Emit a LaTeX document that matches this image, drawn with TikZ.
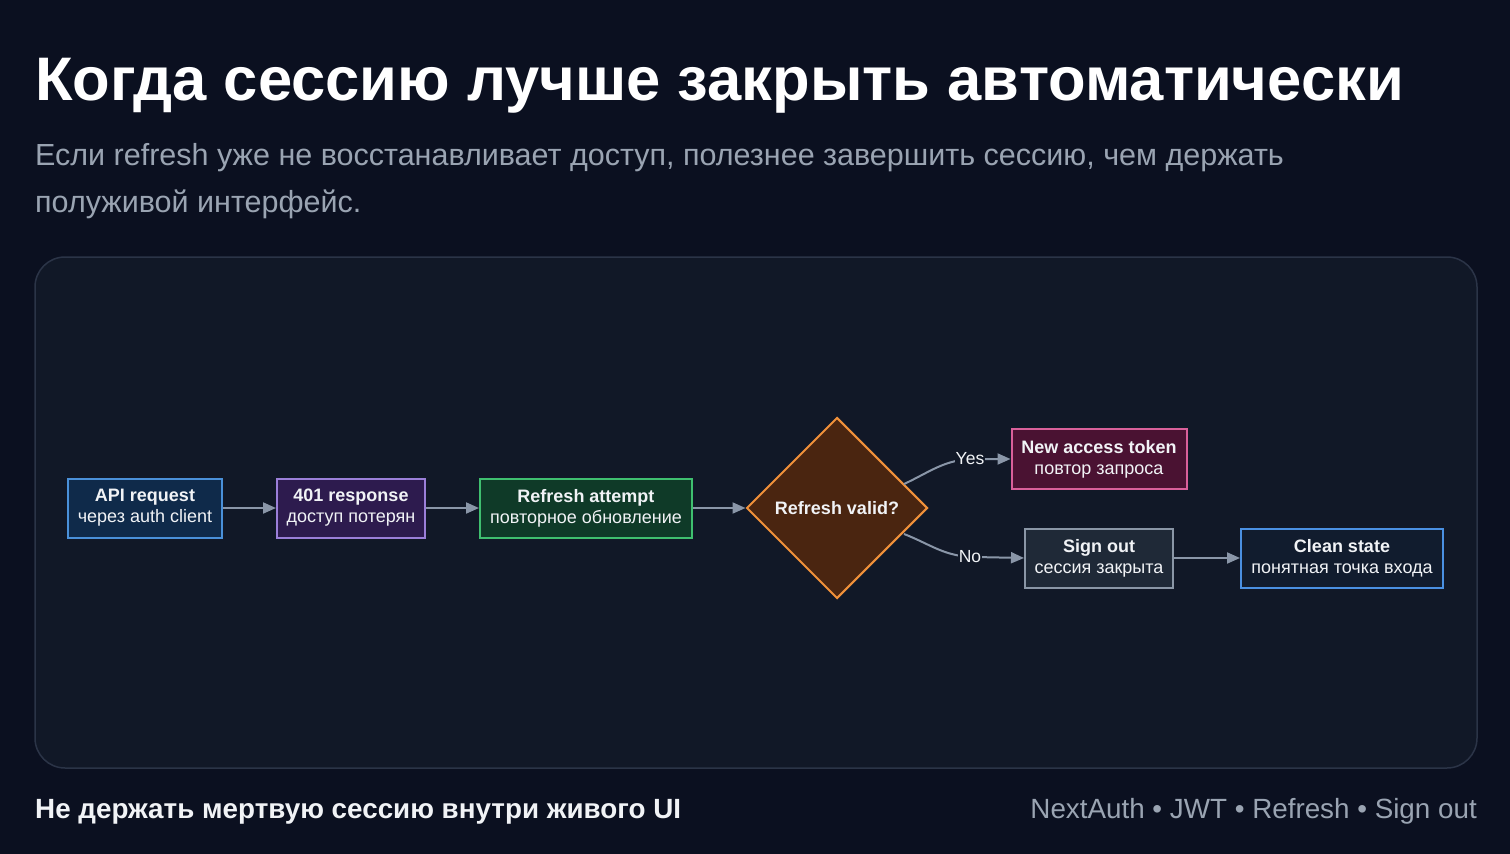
\documentclass[tikz,border=0pt]{standalone}
\usepackage{fontspec}
\setmainfont{Liberation Sans}
\usetikzlibrary{shapes.geometric,arrows.meta}
\definecolor{bg}{HTML}{0B1020}
\definecolor{panel}{HTML}{111827}
\definecolor{panelb}{HTML}{2B3447}
\definecolor{sub}{HTML}{9AA4B2}
\definecolor{arr}{HTML}{8A96A8}
\definecolor{txt}{HTML}{F1F3F6}
\definecolor{f1}{HTML}{0F2A4A}\definecolor{b1}{HTML}{4A90D9}
\definecolor{f2}{HTML}{2D1B4E}\definecolor{b2}{HTML}{9B7FD9}
\definecolor{f3}{HTML}{0F3A28}\definecolor{b3}{HTML}{3FBF6F}
\definecolor{f4}{HTML}{4A2510}\definecolor{b4}{HTML}{F0913A}
\definecolor{f5}{HTML}{4A1232}\definecolor{b5}{HTML}{D9609A}
\definecolor{f6}{HTML}{1F2937}\definecolor{b6}{HTML}{8A96A6}
\definecolor{f7}{HTML}{111C2E}\definecolor{b7}{HTML}{4A90E2}
\tikzset{
  box/.style={draw, line width=2pt, inner sep=0pt, minimum height=59pt, align=center, text=txt, font=\fontsize{18}{21}\selectfont},
  conn/.style={draw=arr, line width=2pt, -{Triangle[length=13pt,width=11pt]}},
  lbl/.style={text=txt, font=\fontsize{17.5}{20}\selectfont, fill=panel, inner sep=1pt}
}
\begin{document}
\begin{tikzpicture}[x=1pt,y=-1pt]
\fill[bg] (0,0) rectangle (1510,854);
\useasboundingbox (0,0) rectangle (1510,854);
\node[anchor=base west, text=white, inner sep=0pt, font=\fontsize{61.5}{70}\selectfont\bfseries] (title) at (35,100) {Когда сессию лучше закрыть автоматически};
\node[anchor=base west, text=sub, inner sep=0pt, font=\fontsize{30.5}{46}\selectfont] (subt) at (35,165) {Если refresh уже не восстанавливает доступ, полезнее завершить сессию, чем держать};
\node[anchor=base west, text=sub, inner sep=0pt, font=\fontsize{30.5}{46}\selectfont] (subt2) at (35,212) {полуживой интерфейс.};
\draw[fill=panel, draw=panelb, line width=1.5pt, rounded corners=30pt] (35,257) rectangle (1477,768);
\node[box, fill=f1, draw=b1, minimum width=154pt] (api) at (145,508) {\textbf{API request}\\через auth client};
\node[box, fill=f2, draw=b2, minimum width=148pt] (r401) at (351,508) {\textbf{401 response}\\доступ потерян};
\node[box, fill=f3, draw=b3, minimum width=212pt] (ref) at (586,508) {\textbf{Refresh attempt}\\повторное обновление};
\node[diamond, draw=b4, fill=f4, line width=2pt, minimum width=181pt, minimum height=181pt, inner sep=0pt, text=txt, font=\fontsize{18}{21}\selectfont\bfseries] (dia) at (837,508) {Refresh valid?};
\node[box, fill=f5, draw=b5, minimum width=175pt, minimum height=60pt] (tok) at (1099,459) {\textbf{New access token}\\повтор запроса};
\node[box, fill=f6, draw=b6, minimum width=148pt] (so) at (1099,558) {\textbf{Sign out}\\сессия закрыта};
\node[box, fill=f7, draw=b7, minimum width=202pt] (cl) at (1342,558) {\textbf{Clean state}\\понятная точка входа};
\draw[conn] (api) -- (r401);
\draw[conn] (r401) -- (ref);
\draw[conn] (ref) -- (dia);
\coordinate (ys) at (904,484);
\coordinate (ns) at (904,534);
\draw[conn] (ys) .. controls (930,472) and (945,459) .. (975,459) -- (tok.west);
\node[lbl] (yes) at (970,459) {Yes};
\draw[conn] (ns) .. controls (930,544) and (945,557) .. (975,557) -- (so.west);
\node[lbl] (no) at (970,557) {No};
\draw[conn] (so) -- (cl);
\node[anchor=base west, text=txt, inner sep=0pt, font=\fontsize{27.8}{30}\selectfont\bfseries] (foot) at (35,818) {Не держать мертвую сессию внутри живого UI};
\node[anchor=base east, text=sub, inner sep=0pt, font=\fontsize{27.8}{30}\selectfont] (tags) at (1477,818) {NextAuth • JWT • Refresh • Sign out};
\end{tikzpicture}
\end{document}
